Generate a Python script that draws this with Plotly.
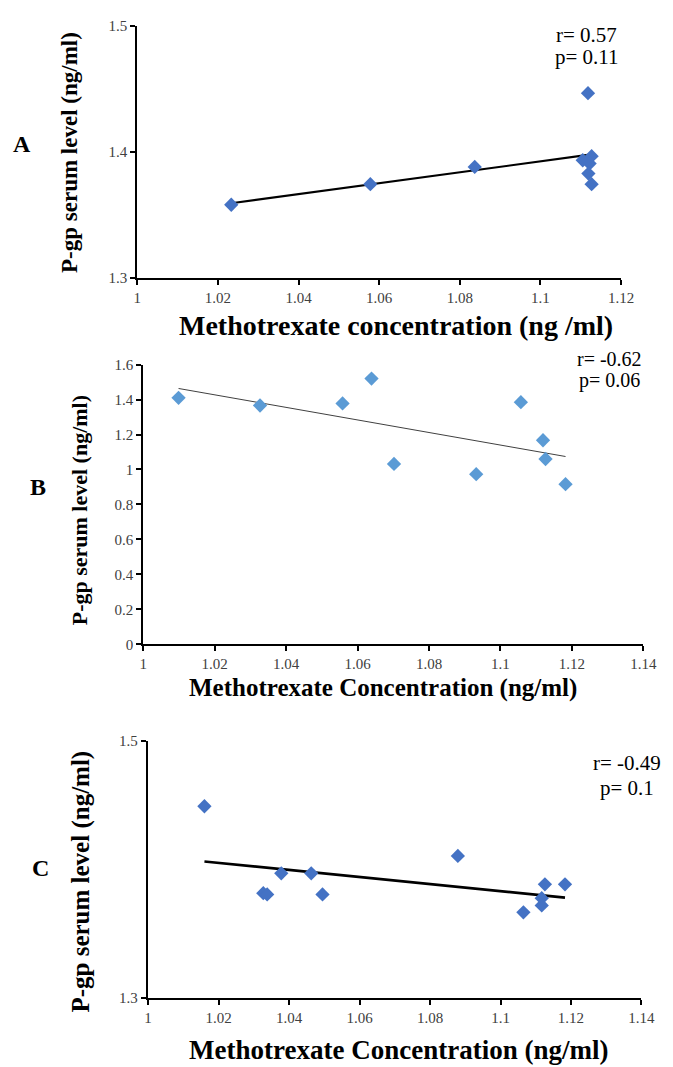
import numpy as np
import plotly.graph_objects as go

W, H = 673, 1067
FONT = "Liberation Serif, Times New Roman, serif"

# ---------------- data ----------------
# Panel A
a_x = [1.0233, 1.0578, 1.0837, 1.1118, 1.1127, 1.1105, 1.1122, 1.1119, 1.1127]
a_y = [1.358, 1.3743, 1.388, 1.4465, 1.3965, 1.3933, 1.3907, 1.3827, 1.3743]
a_xticks = [1, 1.02, 1.04, 1.06, 1.08, 1.1, 1.12]
a_xticktext = ["1", "1.02", "1.04", "1.06", "1.08", "1.1", "1.12"]
a_yticks = [1.3, 1.4, 1.5]
a_yticktext = ["1.3", "1.4", "1.5"]
a_stats = ["r= 0.57", "p= 0.11"]

# Panel B
b_x = [1.0099, 1.0327, 1.0558, 1.0639, 1.0702, 1.0932, 1.1057, 1.1119, 1.1126, 1.1182]
b_y = [1.41, 1.366, 1.378, 1.52, 1.032, 0.973, 1.385, 1.167, 1.06, 0.916]
b_xticks = [1, 1.02, 1.04, 1.06, 1.08, 1.1, 1.12, 1.14]
b_xticktext = ["1", "1.02", "1.04", "1.06", "1.08", "1.1", "1.12", "1.14"]
b_yticks = [0, 0.2, 0.4, 0.6, 0.8, 1.0, 1.2, 1.4, 1.6]
b_yticktext = ["0", "0.2", "0.4", "0.6", "0.8", "1", "1.2", "1.4", "1.6"]
b_stats = ["r= -0.62", "p= 0.06"]

# Panel C
c_x = [1.016, 1.0879, 1.0378, 1.0463, 1.0327, 1.0338, 1.0495, 1.1126, 1.1183, 1.1117, 1.1117, 1.1065]
c_y = [1.4491, 1.4105, 1.3969, 1.3969, 1.3815, 1.3805, 1.3805, 1.3884, 1.3884, 1.3776, 1.372, 1.3666]
c_xticks = [1, 1.02, 1.04, 1.06, 1.08, 1.1, 1.12, 1.14]
c_xticktext = ["1", "1.02", "1.04", "1.06", "1.08", "1.1", "1.12", "1.14"]
c_yticks = [1.3, 1.5]
c_yticktext = ["1.3", "1.5"]
c_stats = ["r= -0.49", "p= 0.1"]

y_title = "P-gp serum level (ng/ml)"
a_xtitle = "Methotrexate concentration (ng /ml)"
bc_xtitle = "Methotrexate Concentration (ng/ml)"


def px_x(p):
    return p / W


def px_y(p):
    return 1 - p / H


def fit_line(xs, ys):
    k, b = np.polyfit(xs, ys, 1)
    xx = np.array([min(xs), max(xs)])
    return xx, k * xx + b


fig = go.Figure()

panels = [
    dict(x=a_x, y=a_y, s="", color="#4472C4", lc="#000000", lw=2.2),
    dict(x=b_x, y=b_y, s="2", color="#5B9BD5", lc="#404040", lw=1),
    dict(x=c_x, y=c_y, s="3", color="#4472C4", lc="#000000", lw=2.6),
]

for p in panels:
    xx, yy = fit_line(p["x"], p["y"])
    fig.add_trace(go.Scatter(x=xx, y=yy, mode="lines",
                             line=dict(color=p["lc"], width=p["lw"]),
                             xaxis="x" + p["s"], yaxis="y" + p["s"],
                             showlegend=False, hoverinfo="skip"))
    fig.add_trace(go.Scatter(x=p["x"], y=p["y"], mode="markers",
                             marker=dict(symbol="diamond", size=11, color=p["color"],
                                         line=dict(width=0)),
                             xaxis="x" + p["s"], yaxis="y" + p["s"],
                             showlegend=False, cliponaxis=False))

tickfont = dict(family=FONT, size=15, color="#404040")


def axis(domain, rng, tv, tt, anchor, lw):
    return dict(domain=domain, range=rng, tickvals=tv, ticktext=tt, anchor=anchor,
                showline=True, linecolor="black", linewidth=lw, mirror=False,
                ticks="outside", ticklen=5, tickwidth=lw, tickcolor="black",
                showgrid=False, zeroline=False, tickfont=tickfont, fixedrange=True)


# pixel layout of the three plot areas (left, right, top, bottom)
A_box = (137, 634, 18, 274)
B_box = (143, 657, 362, 646)
C_box = (148, 655, 744, 1005)


def dom(box):
    l, r, t, b = box
    return [px_x(l), px_x(r)], [px_y(b), px_y(t)]


ax_dx, ax_dy = dom(A_box)
bx_dx, bx_dy = dom(B_box)
cx_dx, cx_dy = dom(C_box)

fig.update_layout(
    width=W, height=H,
    margin=dict(l=0, r=0, t=0, b=0),
    paper_bgcolor="white", plot_bgcolor="white",
    xaxis=axis(ax_dx, [1, 1.12], a_xticks, a_xticktext, "y", 2),
    yaxis=axis(ax_dy, [1.3, 1.5], a_yticks, a_yticktext, "x", 2),
    xaxis2=axis(bx_dx, [1, 1.14], b_xticks, b_xticktext, "y2", 2),
    yaxis2=axis(bx_dy, [0, 1.6], b_yticks, b_yticktext, "x2", 2),
    xaxis3=axis(cx_dx, [1, 1.14], c_xticks, c_xticktext, "y3", 2.4),
    yaxis3=axis(cx_dy, [1.3, 1.5], c_yticks, c_yticktext, "x3", 2.4),
    showlegend=False,
)

ann = []


def text(x, y, t, size, bold=False, angle=0, xanchor="center", yanchor="middle"):
    ann.append(dict(x=px_x(x), y=px_y(y), xref="paper", yref="paper",
                    text=("<b>%s</b>" % t) if bold else t, showarrow=False,
                    textangle=angle, xanchor=xanchor, yanchor=yanchor,
                    font=dict(family=FONT, size=size, color="black")))


# panel letters
text(19, 138, "A", 24, bold=True)
text(35, 486, "B", 24, bold=True)
text(37, 873, "C", 24, bold=True)

# y titles
text(68, 147, y_title, 23, bold=True, angle=-90)
text(77, 510, y_title, 22, bold=True, angle=-90)
text(79, 887, y_title, 25, bold=True, angle=-90)

# x titles
text(403, 322, a_xtitle, 28, bold=True)
text(389, 690, bc_xtitle, 25, bold=True)
text(405, 1058, bc_xtitle, 27, bold=True)

# stats
text(599, 27, a_stats[0], 21)
text(599, 50, a_stats[1], 21)
text(622, 356, b_stats[0], 20)
text(622, 378, b_stats[1], 20)
text(640, 767, c_stats[0], 21)
text(640, 792, c_stats[1], 21)

fig.update_layout(annotations=ann)
fig.write_html("out.html")
